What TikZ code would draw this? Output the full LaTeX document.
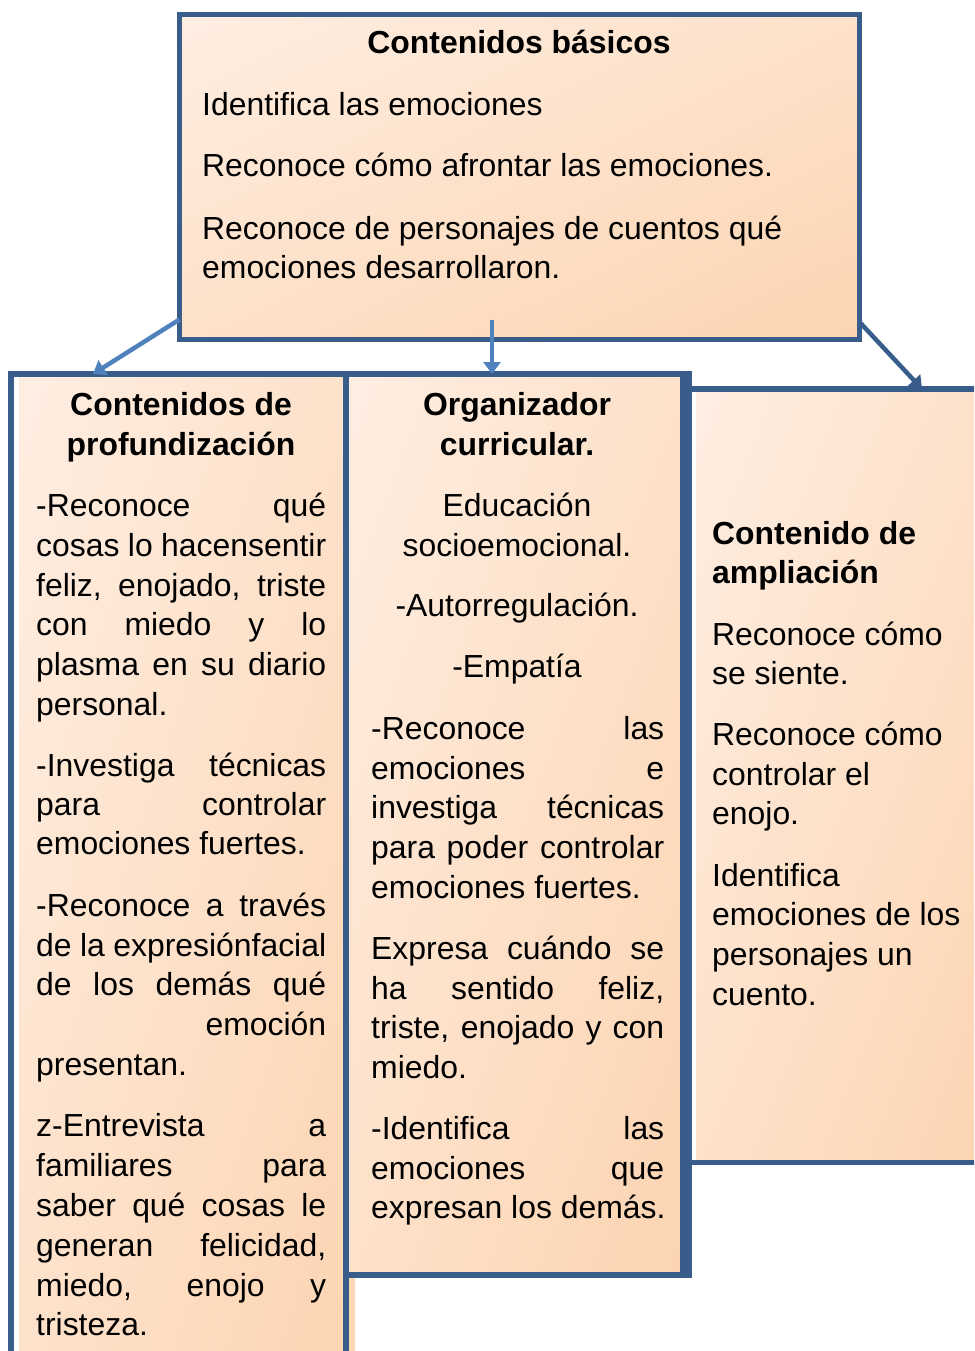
\documentclass[tikz,border=0pt]{standalone}
\usepackage{fontspec}
\setmainfont{Liberation Sans}
\usetikzlibrary{arrows.meta,shadings}
\definecolor{bord}{RGB}{56,93,138}
\definecolor{arr}{RGB}{79,129,189}
\definecolor{pLight}{RGB}{254,238,226}
\definecolor{pDark}{RGB}{252,212,177}
\colorlet{pMid}{pLight!50!pDark}
\newlength\jw
\newcommand\J[1]{\makebox[\jw][s]{#1}}
\hbadness=10000
\begin{document}
\begin{tikzpicture}[x=1pt,y=-1pt,
  peach/.style={upper left=pLight, lower right=pDark, upper right=pMid, lower left=pMid},
  frame/.style={draw=bord, rectangle, inner sep=0pt, outer sep=0pt, anchor=north west},
  txt/.style={anchor=base west, inner sep=0pt, font=\fontsize{31.9}{40}\selectfont},
  ctxt/.style={txt, anchor=base},
  btxt/.style={txt, font=\fontsize{31.9}{40}\selectfont\bfseries},
  bctxt/.style={btxt, anchor=base},
  conn/.style={line width=4.5pt, draw=arr, -{Triangle[length=12pt,width=17pt]}},
]
\useasboundingbox (0,0) rectangle (974,1351);
\clip (0,0) rectangle (974,1351);
% right box
\shade[peach] (696,392) rectangle (1000,1159);
\node[frame, line width=5.5pt, minimum width=330pt, minimum height=773.5pt] (rbox) at (689,389) {};
% left box
\shade[peach] (19,377) rectangle (355,1400);
\node[frame, line width=6pt, minimum width=335pt, minimum height=1046pt] (lbox) at (11,374) {};
% middle box
\node[frame, shade, peach, line width=6pt, minimum width=337pt, minimum height=901pt] (mbox) at (346,374) {};
\fill[bord] ([xshift=3pt,yshift=3pt]mbox.north east) rectangle ([xshift=9pt,yshift=-3pt]mbox.south east);
% top box
\node[frame, shade, peach, line width=5pt, minimum width=680pt, minimum height=325pt] (tbox) at (179.5,14.5) {};
% connectors
\draw[conn] ([yshift=20pt]tbox.south west) -- ([xshift=82pt]lbox.north west);
\draw[conn] ([xshift=-27.5pt,yshift=20pt]tbox.south) -- ([xshift=-22.5pt]mbox.north);
\draw[conn, draw=bord] ([yshift=17.5pt]tbox.south east) -- ([xshift=233pt]rbox.north west);
% top texts
\node[bctxt] (h0) at (519,54) {Contenidos básicos};
\foreach \y/\t [count=\i] in {116/{Identifica las emociones}, 177/{Reconoce cómo afrontar las emociones.}, 239/{Reconoce de personajes de cuentos qué}, 278/{emociones desarrollaron.}}
  \node[txt] (tt\i) at (202,\y) {\t};
% left texts
\node[bctxt] (h1a) at (181,415) {Contenidos de};
\node[bctxt] (h1b) at (181,455) {profundización};
\setlength\jw{290pt}
\foreach \y/\t [count=\i] in {
  516/{\J{-Reconoce qué}},
  556/{\J{cosas lo hacensentir}},
  596/{\J{feliz, enojado, triste}},
  635/{\J{con miedo y lo}},
  675/{\J{plasma en su diario}},
  715/{personal.},
  776/{\J{-Investiga técnicas}},
  815/{\J{para controlar}},
  854/{emociones fuertes.},
  916/{\J{-Reconoce a través}},
  956/{\J{de la expresiónfacial}},
  995/{\J{de los demás qué}},
  1035/{\makebox[\jw][r]{emoción}},
  1075/{presentan.},
  1136/{\J{z-Entrevista a}},
  1176/{\J{familiares para}},
  1216/{\J{saber qué cosas le}},
  1256/{\J{generan felicidad,}},
  1296/{\J{miedo, enojo y}},
  1335/{tristeza.}}
  \node[txt] (tl\i) at (36,\y) {\t};
% middle texts
\node[bctxt] (h2a) at (517,415) {Organizador};
\node[bctxt] (h2b) at (517,455) {curricular.};
\foreach \y/\t [count=\i] in {516/{Educación}, 556/{socioemocional.}, 616/{-Autorregulación.}, 677/{-Empatía}}
  \node[ctxt] (tc\i) at (517,\y) {\t};
\setlength\jw{293pt}
\foreach \y/\t [count=\i] in {
  739/{\J{-Reconoce las}},
  779/{\J{emociones e}},
  818/{\J{investiga técnicas}},
  858/{\J{para poder controlar}},
  898/{emociones fuertes.},
  959/{\J{Expresa cuándo se}},
  999/{\J{ha sentido feliz,}},
  1038/{\J{triste, enojado y con}},
  1078/{miedo.},
  1139/{\J{-Identifica las}},
  1179/{\J{emociones que}},
  1218/{expresan los demás.}}
  \node[txt] (tm\i) at (371,\y) {\t};
% right texts
\node[btxt] (h3a) at (712,544) {Contenido de};
\node[btxt] (h3b) at (712,583) {ampliación};
\foreach \y/\t [count=\i] in {645/{Reconoce cómo}, 684/{se siente.}, 745/{Reconoce cómo}, 785/{controlar el}, 824/{enojo.}, 886/{Identifica}, 925/{emociones de los}, 965/{personajes un}, 1005/{cuento.}}
  \node[txt] (tr\i) at (712,\y) {\t};
\end{tikzpicture}
\end{document}
